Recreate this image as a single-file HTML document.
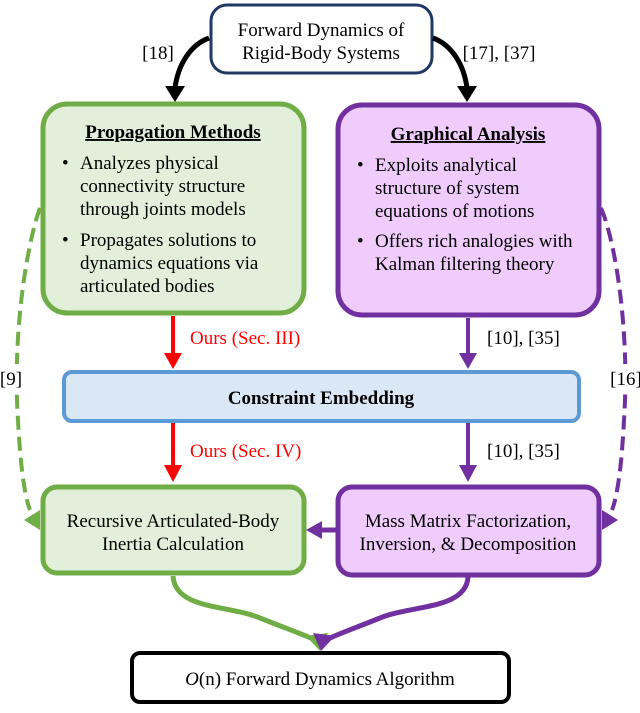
<!DOCTYPE html>
<html><head><style>
body{margin:0;background:#fff}
svg text{font-family:"Liberation Serif",serif}
</style></head><body>
<svg width="640" height="708" viewBox="0 0 640 708" xmlns="http://www.w3.org/2000/svg">
<!-- top box -->
<rect x="211" y="5" width="221" height="68" rx="16" fill="#fff" stroke="#1f3864" stroke-width="3"/>
<text x="321" y="36" font-size="19" text-anchor="middle">Forward Dynamics of</text>
<text x="321" y="59" font-size="19" text-anchor="middle">Rigid-Body Systems</text>
<!-- black curved arrows -->
<path d="M209,38 C190,45 178,65 175,88" fill="none" stroke="#000" stroke-width="5"/>
<path d="M165,86 L185,86 L175,102 z" fill="#000"/>
<path d="M433,38 C452,45 464,65 467,88" fill="none" stroke="#000" stroke-width="5"/>
<path d="M457,86 L477,86 L467,102 z" fill="#000"/>
<text x="158" y="59" font-size="19" text-anchor="middle">[18]</text>
<text x="499" y="59" font-size="19" text-anchor="middle">[17], [37]</text>
<!-- green box -->
<rect x="43" y="104" width="261" height="209" rx="24" fill="#e2efda" stroke="#70ad47" stroke-width="5"/>
<text x="173" y="138" font-size="19" font-weight="bold" text-anchor="middle" text-decoration="underline">Propagation Methods</text>
<g font-size="19">
<text x="62" y="169">•</text>
<text x="80" y="169">Analyzes physical</text>
<text x="80" y="192">connectivity structure</text>
<text x="80" y="215">through joints models</text>
<text x="62" y="246">•</text>
<text x="80" y="246">Propagates solutions to</text>
<text x="80" y="269">dynamics equations via</text>
<text x="80" y="292">articulated bodies</text>
</g>
<!-- purple box -->
<rect x="338" y="105" width="261" height="210" rx="24" fill="#f0ccfc" stroke="#7030a0" stroke-width="5"/>
<text x="468" y="140" font-size="19" font-weight="bold" text-anchor="middle" text-decoration="underline">Graphical Analysis</text>
<g font-size="19">
<text x="357" y="171">•</text>
<text x="375" y="171">Exploits analytical</text>
<text x="375" y="194">structure of system</text>
<text x="375" y="217">equations of motions</text>
<text x="357" y="247">•</text>
<text x="375" y="247">Offers rich analogies with</text>
<text x="375" y="270">Kalman filtering theory</text>
</g>
<!-- red/purple vertical arrows -->
<line x1="173" y1="316" x2="173" y2="355" stroke="#ff0000" stroke-width="4"/>
<path d="M164,353 L182,353 L173,369 z" fill="#ff0000"/>
<text x="190" y="344" font-size="19" fill="#ff0000">Ours (Sec. III)</text>
<line x1="468" y1="318" x2="468" y2="355" stroke="#7030a0" stroke-width="4"/>
<path d="M459,353 L477,353 L468,369 z" fill="#7030a0"/>
<text x="487" y="344" font-size="19">[10], [35]</text>
<!-- blue box -->
<rect x="64" y="372" width="515" height="49" rx="8" fill="#dae8f5" stroke="#5b9bd5" stroke-width="4"/>
<text x="321" y="404" font-size="19" font-weight="bold" text-anchor="middle">Constraint Embedding</text>
<line x1="173" y1="423" x2="173" y2="467" stroke="#ff0000" stroke-width="4"/>
<path d="M164,465 L182,465 L173,482 z" fill="#ff0000"/>
<text x="190" y="457" font-size="19" fill="#ff0000">Ours (Sec. IV)</text>
<line x1="468" y1="423" x2="468" y2="467" stroke="#7030a0" stroke-width="4"/>
<path d="M459,465 L477,465 L468,482 z" fill="#7030a0"/>
<text x="487" y="457" font-size="19">[10], [35]</text>
<!-- dashed curves -->
<path d="M40,208 C28,240 12,330 18,420 C20,460 24,495 30,510" fill="none" stroke="#70ad47" stroke-width="4" stroke-dasharray="14,7"/>
<path d="M24,520 L40,510 L40,530 z" fill="#70ad47"/>
<path d="M601,208 C615,240 630,330 624,420 C622,460 618,495 612,510" fill="none" stroke="#7030a0" stroke-width="4" stroke-dasharray="14,7"/>
<path d="M618,520 L602,510 L602,530 z" fill="#7030a0"/>
<rect x="0" y="364" width="24" height="30" fill="#fff"/>
<rect x="610" y="364" width="30" height="30" fill="#fff"/>
<text x="11" y="385" font-size="19" text-anchor="middle">[9]</text>
<text x="626" y="385" font-size="19" text-anchor="middle">[16]</text>
<!-- bottom boxes -->
<rect x="43" y="487" width="261" height="86" rx="14" fill="#e2efda" stroke="#70ad47" stroke-width="5"/>
<text x="173" y="527" font-size="19" text-anchor="middle">Recursive Articulated-Body</text>
<text x="173" y="550" font-size="19" text-anchor="middle">Inertia Calculation</text>
<rect x="338" y="487" width="261" height="88" rx="14" fill="#f0ccfc" stroke="#7030a0" stroke-width="5"/>
<text x="468" y="527" font-size="19" text-anchor="middle">Mass Matrix Factorization,</text>
<text x="468" y="550" font-size="19" text-anchor="middle">Inversion, &amp; Decomposition</text>
<!-- purple horizontal arrow -->
<line x1="336" y1="530" x2="320" y2="530" stroke="#7030a0" stroke-width="5"/>
<path d="M322,521 L322,539 L306,530 z" fill="#7030a0"/>
<!-- converging curves -->
<path d="M173,576 C175,610 230,605 260,618 C290,630 305,635 315,640" fill="none" stroke="#70ad47" stroke-width="5"/>
<path d="M306,636 L328,633 L320,651 z" fill="#70ad47"/>
<path d="M468,577 C466,610 410,605 380,618 C350,630 335,635 326,640" fill="none" stroke="#7030a0" stroke-width="5"/>
<path d="M335,636 L313,633 L321,651 z" fill="#7030a0"/>
<!-- final box -->
<rect x="132" y="653" width="377" height="49" rx="8" fill="#fff" stroke="#000" stroke-width="4"/>
<text x="320" y="685" font-size="19" text-anchor="middle"><tspan font-style="italic">O</tspan>(n) Forward Dynamics Algorithm</text>
</svg>
</body></html>
